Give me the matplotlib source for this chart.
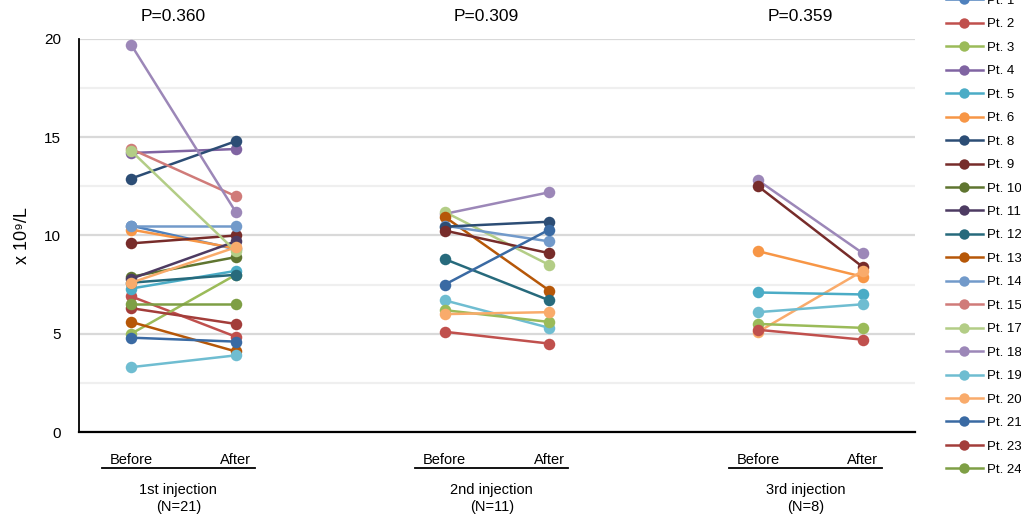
import numpy as np
import matplotlib
matplotlib.use("Agg")
import matplotlib.pyplot as plt
from matplotlib.lines import Line2D
from matplotlib import font_manager

plt.rcParams['font.family'] = ['Liberation Sans', 'DejaVu Sans']

# narrow font for the category texts if present
names = set(f.name for f in font_manager.fontManager.ttflist)
narrow = 'Liberation Sans Narrow' if 'Liberation Sans Narrow' in names else 'Liberation Sans'

# legend order + colours
patients = ["Pt. 1", "Pt. 2", "Pt. 3", "Pt. 4", "Pt. 5", "Pt. 6", "Pt. 8", "Pt. 9",
            "Pt. 10", "Pt. 11", "Pt. 12", "Pt. 13", "Pt. 14", "Pt. 15", "Pt. 17",
            "Pt. 18", "Pt. 19", "Pt. 20", "Pt. 21", "Pt. 23", "Pt. 24"]
colors = ["#4f81bd", "#c0504d", "#9bbb59", "#8064a2", "#4bacc6", "#f79646", "#2c4d75",
          "#772c2a", "#5f7530", "#4d3b62", "#276a7c", "#b65708", "#729aca", "#d07b79",
          "#b3cd86", "#9c87b8", "#6fbdd1", "#f9ab6b", "#3a6aa3", "#a33d3a", "#7e9f45"]

# 1st injection
g1_pts    = ["Pt. 1", "Pt. 2", "Pt. 3", "Pt. 4", "Pt. 5", "Pt. 6", "Pt. 8", "Pt. 9",
             "Pt. 10", "Pt. 11", "Pt. 12", "Pt. 13", "Pt. 14", "Pt. 15", "Pt. 17",
             "Pt. 18", "Pt. 19", "Pt. 20", "Pt. 21", "Pt. 23", "Pt. 24"]
g1_before = [10.5, 6.9, 5.0, 14.2, 7.3, 10.3, 12.9, 9.6, 7.9, 7.8, 7.6, 5.6, 10.5, 14.4,
             14.3, 19.7, 3.3, 7.6, 4.8, 6.3, 6.5]
g1_after  = [9.3, 4.85, 8.0, 14.4, 8.2, 9.35, 14.8, 10.0, 8.9, 9.7, 8.0, 4.1, 10.5, 12.0,
             9.2, 11.2, 3.9, 9.4, 4.6, 5.5, 6.5]

# 2nd injection
g2_pts    = ["Pt. 18", "Pt. 17", "Pt. 13", "Pt. 14", "Pt. 8", "Pt. 9", "Pt. 12",
             "Pt. 21", "Pt. 19", "Pt. 3", "Pt. 20", "Pt. 2"]
g2_before = [11.1, 11.2, 10.95, 10.5, 10.45, 10.25, 8.8, 7.5, 6.7, 6.2, 6.0, 5.1]
g2_after  = [12.2, 8.5, 7.2, 9.7, 10.7, 9.1, 6.7, 10.3, 5.3, 5.6, 6.1, 4.5]

# 3rd injection
g3_pts    = ["Pt. 18", "Pt. 9", "Pt. 6", "Pt. 20", "Pt. 5", "Pt. 19", "Pt. 3", "Pt. 2"]
g3_before = [12.8, 12.5, 9.2, 5.1, 7.1, 6.1, 5.5, 5.2]
g3_after  = [9.1, 8.4, 7.9, 8.2, 7.0, 6.5, 5.3, 4.7]

p_values = ["P=0.360", "P=0.309", "P=0.359"]
group_names = ["1st injection\n(N=21)", "2nd injection\n(N=11)", "3rd injection\n(N=8)"]

cmap = dict(zip(patients, colors))

fig = plt.figure(figsize=(10.21, 5.23), dpi=100)
ax = fig.add_axes([79/1021, 1-432/523, (915-79)/1021, (432-39)/523])

groups = [(g1_pts, g1_before, g1_after), (g2_pts, g2_before, g2_after), (g3_pts, g3_before, g3_after)]
starts = [0, 3, 6]
for x0, (pts, bef, aft) in zip(starts, groups):
    for p, b, a in zip(pts, bef, aft):
        ax.plot([x0, x0+1], [b, a], color=cmap[p], lw=1.8, marker='o', ms=8.3,
                markeredgewidth=0, zorder=3)

ax.set_xlim(-0.5, 7.5)
ax.set_ylim(0, 20)
ax.set_yticks([0, 5, 10, 15, 20])
ax.set_yticks([2.5, 7.5, 12.5, 17.5], minor=True)
ax.set_xticks([])
ax.tick_params(axis='y', which='both', length=0, pad=13, labelsize=11)
ax.grid(axis='y', which='major', color='#d9d9d9', lw=1.6, zorder=0)
ax.grid(axis='y', which='minor', color='#efefef', lw=1.6, zorder=0)
for s in ['top', 'right']:
    ax.spines[s].set_visible(False)
ax.spines['left'].set_linewidth(1.3)
ax.spines['bottom'].set_linewidth(1.6)
ax.set_ylabel('x 10⁹/L', fontsize=13, labelpad=9)

trans = ax.get_xaxis_transform()
for x0, pv, gn in zip(starts, p_values, group_names):
    ax.text(x0+0.4, 1.058, pv, transform=trans, ha='center', va='center', fontsize=12.5)
    ax.text(x0, -0.07, "Before", transform=trans, ha='center', va='center',
            fontsize=10.5, family=narrow)
    ax.text(x0+1, -0.07, "After", transform=trans, ha='center', va='center',
            fontsize=10.5, family=narrow)
    ax.plot([x0-0.28, x0+1.18], [-0.092, -0.092], transform=trans, color='black',
            lw=1.3, clip_on=False)
    ax.text(x0+0.45, -0.17, gn, transform=trans, ha='center', va='center',
            fontsize=10.5, family=narrow, linespacing=1.3)

handles = [Line2D([], [], color=c, lw=1.8, marker='o', ms=7.5, markeredgewidth=0)
           for c in colors]
fig.legend(handles, patients, loc='lower left', bbox_to_anchor=(946/1021, 1-476/523),
           frameon=False, fontsize=9.5, handlelength=2.8, handletextpad=0.3,
           labelspacing=0.85, borderpad=0, borderaxespad=0)

fig.savefig('out.png', dpi=100)
